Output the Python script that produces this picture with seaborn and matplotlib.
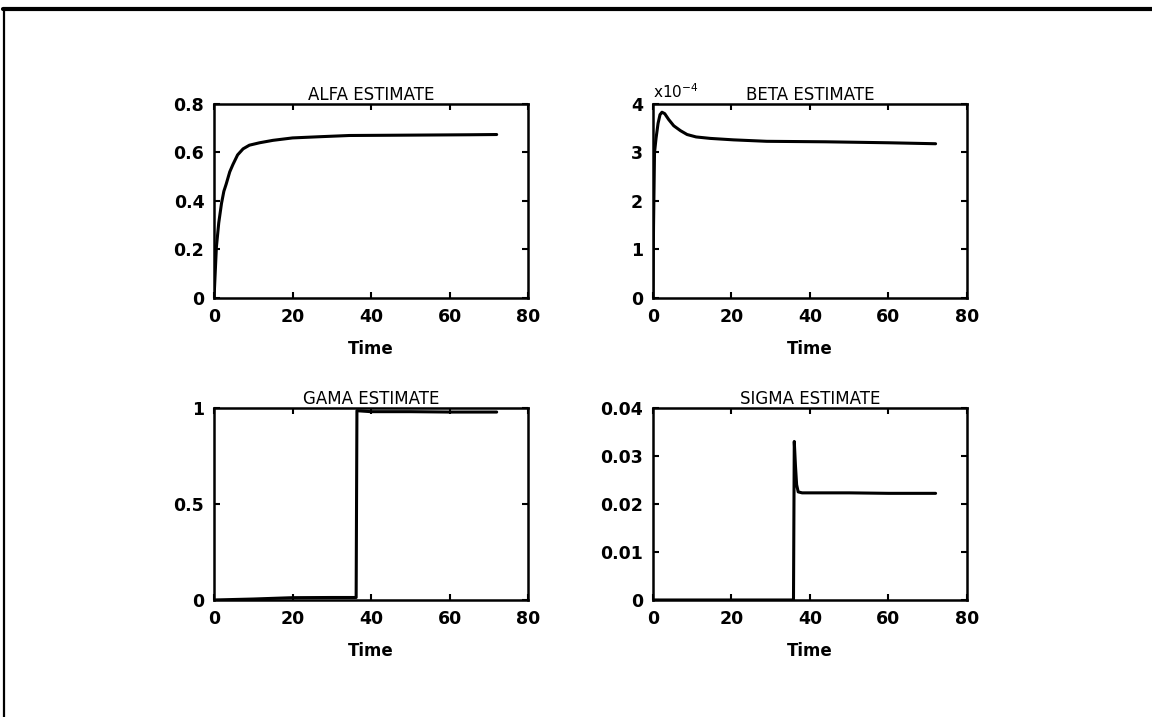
import matplotlib
matplotlib.use("Agg")
import matplotlib.pyplot as plt
import seaborn as sns
import pandas as pd
from matplotlib.lines import Line2D

# estimates
alfa_t = [0, 0.6, 1.2, 1.9, 2.5, 3.1, 4, 4.8, 6, 7.4, 9, 11.6, 15, 20, 27, 34.5, 45, 55, 65, 72]
alfa = [0, 0.21, 0.31, 0.39, 0.44, 0.47, 0.52, 0.55, 0.59, 0.615, 0.63, 0.64, 0.65, 0.66,
        0.665, 0.67, 0.671, 0.672, 0.673, 0.674]

beta_t = [0, 0.15, 0.4, 0.8, 1.3, 1.8, 2.3, 3, 4, 5.3, 7, 8.7, 11, 14.6, 20.5, 29, 44, 60, 72]
beta_e4 = [0, 1.5, 3.0, 3.3, 3.6, 3.78, 3.83, 3.8, 3.68, 3.55, 3.45, 3.37, 3.32, 3.29,
           3.26, 3.23, 3.22, 3.20, 3.18]  # units of 1e-4

gama_t = [0, 10, 20, 30, 36.2, 36.4, 40, 50, 60, 72]
gama = [0, 0.005, 0.012, 0.013, 0.013, 0.985, 0.98, 0.98, 0.978, 0.978]

sigma_t = [0, 35.8, 36.0, 36.3, 36.6, 37.0, 38, 50, 60, 72]
sigma = [0, 0, 0.033, 0.028, 0.024, 0.0225, 0.0223, 0.0223, 0.0222, 0.0222]

titles = ["ALFA ESTIMATE", "BETA ESTIMATE", "GAMA ESTIMATE", "SIGMA ESTIMATE"]
yticks = [[0, 0.2, 0.4, 0.6, 0.8], [0, 1, 2, 3, 4], [0, 0.5, 1], [0, 0.01, 0.02, 0.03, 0.04]]
yticklabels = [["0", "0.2", "0.4", "0.6", "0.8"], ["0", "1", "2", "3", "4"],
               ["0", "0.5", "1"], ["0", "0.01", "0.02", "0.03", "0.04"]]
xticks = [0, 20, 40, 60, 80]

sns.set_style("ticks")
plt.rcParams["font.family"] = ["DejaVu Sans"]
plt.rcParams.update({"text.color": "black", "axes.labelcolor": "black",
                     "xtick.color": "black", "ytick.color": "black"})

fig = plt.figure(figsize=(11.52, 7.17), dpi=100)
positions = [
    [0.1858, 0.5844, 0.2726, 0.2706],
    [0.5668, 0.5844, 0.2726, 0.2706],
    [0.1858, 0.1632, 0.2726, 0.2680],
    [0.5668, 0.1632, 0.2726, 0.2680],
]
series = [(alfa_t, alfa), (beta_t, beta_e4), (gama_t, gama), (sigma_t, sigma)]

for i, (pos, (t, v)) in enumerate(zip(positions, series)):
    ax = fig.add_axes(pos)
    df = pd.DataFrame({"Time": t, "value": v})
    sns.lineplot(data=df, x="Time", y="value", ax=ax, color="black", lw=2.2,
                 sort=False, estimator=None)
    ax.set_xlim(0, 80)
    ax.set_ylim(yticks[i][0], yticks[i][-1])
    ax.set_xticks(xticks)
    ax.set_xticklabels([str(x) for x in xticks], fontsize=12.5, fontweight="bold")
    ax.set_yticks(yticks[i])
    ax.set_yticklabels(yticklabels[i], fontsize=12.5, fontweight="bold")
    ax.tick_params(direction="in", length=4, width=1.5, top=True, right=True, pad=7)
    for s in ax.spines.values():
        s.set_visible(True)
        s.set_linewidth(1.8)
        s.set_color("black")
    ax.set_xlabel("Time", fontsize=12, fontweight="bold", labelpad=10)
    ax.set_ylabel("")
    ax.set_title(titles[i], fontsize=12, pad=3, color="black")
    if i == 1:
        ax.text(0, 1.015, "x10$^{-4}$", transform=ax.transAxes, fontsize=11,
                ha="left", va="bottom", color="black")

# scanned page frame
fig.add_artist(Line2D([0.003, 1.0], [1 - 9 / 717, 1 - 9 / 717], color="black", lw=3,
                      transform=fig.transFigure))
fig.add_artist(Line2D([4 / 1152, 4 / 1152], [0, 1 - 9 / 717], color="black", lw=1.6,
                      transform=fig.transFigure))

fig.savefig("out.png", dpi=100, facecolor="white")
